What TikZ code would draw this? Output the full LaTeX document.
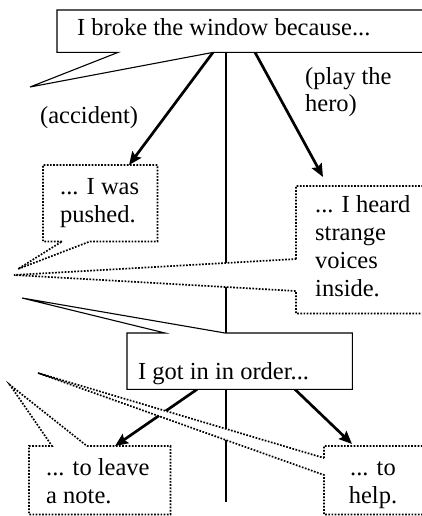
\documentclass[tikz,border=0pt]{standalone}
\usepackage{fontspec}
\setmainfont{Liberation Serif}
\usetikzlibrary{arrows.meta}
\begin{document}
\begin{tikzpicture}[x=1pt,y=-1pt,
  every node/.style={inner sep=0pt, font=\fontsize{24.5}{27.7}\selectfont},
  box/.style={anchor=north west, draw=none},
  txt/.style={anchor=base west, align=left},
  solidcall/.style={draw=black, line width=1.1pt, fill=white, line join=miter},
  dotcall/.style={draw=black, line width=1.7pt, dash pattern=on 1.7pt off 1.5pt, fill=white},
  branch/.style={line width=2.7pt, -{Stealth[length=13pt,width=11pt,inset=2pt]}},
  stem/.style={line width=2pt}]
\clip (0,0) rectangle (422,516);

% frames of the statements
\node[box, minimum width=383pt, minimum height=42pt]  (top)   at (57,10)   {};
\node[box, minimum width=114pt, minimum height=76pt]  (push)  at (43,165)  {};
\node[box, minimum width=144pt, minimum height=127pt] (heard) at (296,186) {};
\node[box, minimum width=225pt, minimum height=56pt]  (order) at (127,333) {};
\node[box, minimum width=141pt, minimum height=68pt]  (note)  at (29,446)  {};
\node[box, minimum width=116pt, minimum height=68pt]  (help)  at (324,446) {};

% speaker tips
\coordinate (tipTop)   at (30,87);
\coordinate (tipPush)  at (18,269);
\coordinate (tipHeard) at (14,275);
\coordinate (tipOrder) at (22,298);
\coordinate (tipNote)  at (10,385);
\coordinate (tipHelp)  at (38,373);
\coordinate (stemend)  at (226,502);

% central stem
\draw[stem] ([xshift=169pt]top.south west) -- (stemend);

% reasons branching off
\draw[branch] ([xshift=156pt]top.south west) -- ([xshift=86pt]push.north west);
\draw[branch] ([xshift=198pt]top.south west) -- ([xshift=27pt,yshift=9pt]heard.north west);
\draw[branch] ([xshift=70pt]order.south west) -- ([xshift=86pt]note.north west);
\draw[branch] ([xshift=168pt]order.south west) -- ([xshift=28pt,yshift=2pt]help.north west);

% speech bubbles
\draw[solidcall] ([xshift=61pt]top.south west) -- (top.south west) -- (top.north west)
  -- (top.north east) -- (top.south east) -- ([xshift=156pt]top.south west) -- (tipTop) -- cycle;
\draw[dotcall] ([xshift=19pt]push.south west) -- (push.south west) -- (push.north west)
  -- (push.north east) -- (push.south east) -- ([xshift=47pt]push.south west) -- (tipPush) -- cycle;
\draw[dotcall] ([yshift=-73pt]heard.north west) -- (heard.north west) -- (heard.north east)
  -- (heard.south east) -- (heard.south west) -- ([yshift=-105pt]heard.north west) -- (tipHeard) -- cycle;
\draw[solidcall] ([xshift=98pt]order.north west) -- (order.north east) -- (order.south east)
  -- (order.south west) -- (order.north west) -- ([xshift=38pt]order.north west) -- (tipOrder) -- cycle;
\draw[dotcall] ([xshift=58pt]note.north west) -- (note.north east) -- (note.south east)
  -- (note.south west) -- (note.north west) -- ([xshift=23pt]note.north west) -- (tipNote) -- cycle;
\draw[dotcall] ([yshift=-12pt]help.north west) -- (help.north west) -- (help.north east)
  -- (help.south east) -- (help.south west) -- ([yshift=-29pt]help.north west) -- (tipHelp) -- cycle;

% texts (multi-line blocks are placed by the baseline of their last line)
\node[txt] (tTop)   at (77,36)   {I broke the window because...};
\node[txt] (tAcc)   at (40,124)  {(accident)};
\node[txt, font=\fontsize{24.5}{26}\selectfont] (tHero) at (305,111) {(play the\\hero)};
\node[txt] (tPush)  at (60,222)  {... I was\\pushed.};
\node[txt] (tHeard) at (315,296) {... I heard\\strange\\voices\\inside.};
\node[txt] (tOrder) at (138,379) {I got in in order...};
\node[txt] (tNote)  at (46,503)  {... to leave\\a note.};
\node[txt, anchor=base, align=center] (tHelp) at (373,503) {... to\\help.};
\end{tikzpicture}
\end{document}
